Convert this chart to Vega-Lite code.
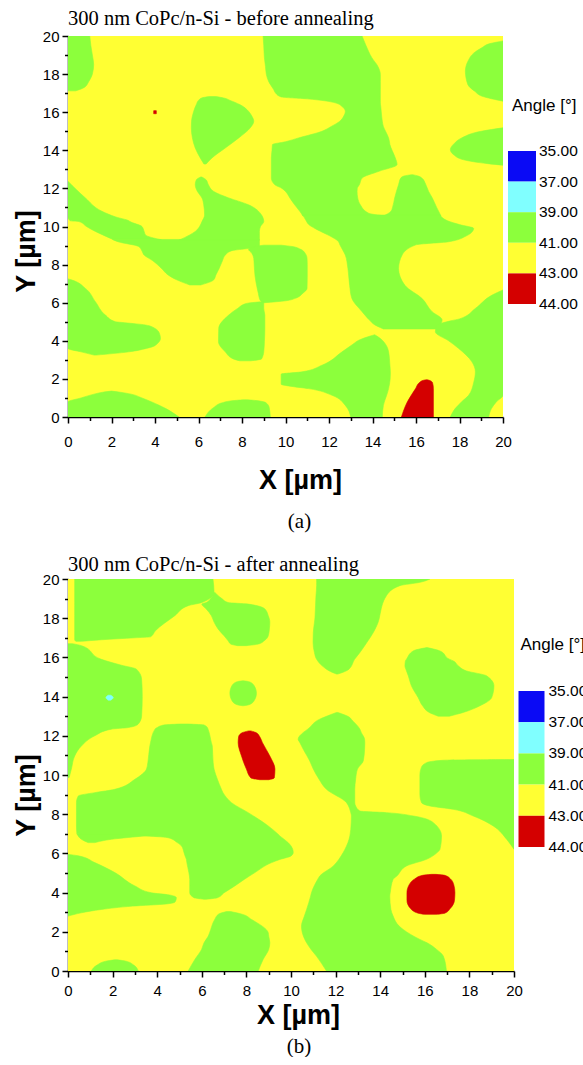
{
  "$schema": "https://vega.github.io/schema/vega-lite/v6.json",
  "padding": {"left": 12, "top": 8, "right": 0, "bottom": 0},
  "background": "white",
  "config": {
    "view": {"stroke": null},
    "axis": {"domainColor": "black", "tickColor": "black", "domainWidth": 1.5, "tickWidth": 1.5, "labelFont": "Liberation Sans", "labelFontSize": 15, "labelColor": "black", "titleFont": "Liberation Sans", "titleFontSize": 27, "titleFontWeight": "bold", "titleColor": "black", "grid": false, "labelFlush": false, "labelOverlap": false}
  },
  "datasets": {
    "a": [
      {"id":"bg","y":0,"y2":20,"xl":0,"xr":20,"v":"41-43"},
      {"id":"A1","y":17.12,"xl":0,"xr":0.35,"v":"39-41"},{"id":"A1","y":17.3,"xl":0,"xr":0.75,"v":"39-41"},{"id":"A1","y":17.6,"xl":0,"xr":0.95,"v":"39-41"},{"id":"A1","y":18.0,"xl":0,"xr":1.12,"v":"39-41"},{"id":"A1","y":18.5,"xl":0,"xr":1.18,"v":"39-41"},{"id":"A1","y":19.0,"xl":0,"xr":1.12,"v":"39-41"},{"id":"A1","y":19.5,"xl":0,"xr":1.05,"v":"39-41"},{"id":"A1","y":20,"xl":0,"xr":1.0,"v":"39-41"},
      {"id":"A2","y":13.28,"xl":6.25,"xr":6.35,"v":"39-41"},{"id":"A2","y":13.6,"xl":6.08,"xr":6.62,"v":"39-41"},{"id":"A2","y":14.12,"xl":5.85,"xr":7.23,"v":"39-41"},{"id":"A2","y":14.65,"xl":5.72,"xr":7.85,"v":"39-41"},{"id":"A2","y":15.18,"xl":5.67,"xr":8.38,"v":"39-41"},{"id":"A2","y":15.53,"xl":5.68,"xr":8.54,"v":"39-41"},{"id":"A2","y":15.8,"xl":5.72,"xr":8.45,"v":"39-41"},{"id":"A2","y":16.05,"xl":5.78,"xr":8.3,"v":"39-41"},{"id":"A2","y":16.4,"xl":5.9,"xr":7.9,"v":"39-41"},{"id":"A2","y":16.62,"xl":6.0,"xr":7.45,"v":"39-41"},{"id":"A2","y":16.75,"xl":6.15,"xr":7.15,"v":"39-41"},{"id":"A2","y":16.82,"xl":6.5,"xr":6.8,"v":"39-41"},
      {"id":"Ta","y":10.55,"xl":10.8,"xr":14.6,"v":"39-41"},{"id":"Ta","y":10.7,"xl":10.72,"xr":13.82,"v":"39-41"},{"id":"Ta","y":11.14,"xl":10.42,"xr":13.44,"v":"39-41"},{"id":"Ta","y":11.5,"xl":10.2,"xr":13.32,"v":"39-41"},{"id":"Ta","y":11.84,"xl":10.0,"xr":13.29,"v":"39-41"},{"id":"Ta","y":12.0,"xl":9.84,"xr":13.3,"v":"39-41"},{"id":"Ta","y":12.2,"xl":9.5,"xr":13.4,"v":"39-41"},{"id":"Ta","y":12.54,"xl":9.35,"xr":13.52,"v":"39-41"},{"id":"Ta","y":12.9,"xl":9.35,"xr":14.3,"v":"39-41"},{"id":"Ta","y":13.25,"xl":9.35,"xr":15.13,"v":"39-41"},{"id":"Ta","y":13.6,"xl":9.35,"xr":15.05,"v":"39-41"},{"id":"Ta","y":14.0,"xl":9.38,"xr":14.9,"v":"39-41"},{"id":"Ta","y":14.3,"xl":9.4,"xr":14.8,"v":"39-41"},{"id":"Ta","y":14.45,"xl":10.0,"xr":14.78,"v":"39-41"},{"id":"Ta","y":14.65,"xl":10.6,"xr":14.74,"v":"39-41"},{"id":"Ta","y":15.0,"xl":11.68,"xr":14.6,"v":"39-41"},{"id":"Ta","y":15.25,"xl":12.1,"xr":14.5,"v":"39-41"},{"id":"Ta","y":15.53,"xl":12.5,"xr":14.45,"v":"39-41"},{"id":"Ta","y":15.8,"xl":12.68,"xr":14.42,"v":"39-41"},{"id":"Ta","y":16.05,"xl":12.75,"xr":14.4,"v":"39-41"},{"id":"Ta","y":16.3,"xl":12.6,"xr":14.38,"v":"39-41"},{"id":"Ta","y":16.49,"xl":12.29,"xr":14.36,"v":"39-41"},{"id":"Ta","y":16.6,"xl":11.8,"xr":14.36,"v":"39-41"},{"id":"Ta","y":16.7,"xl":11.0,"xr":14.36,"v":"39-41"},{"id":"Ta","y":16.8,"xl":9.8,"xr":14.36,"v":"39-41"},{"id":"Ta","y":17.0,"xl":9.55,"xr":14.36,"v":"39-41"},{"id":"Ta","y":17.2,"xl":9.45,"xr":14.36,"v":"39-41"},{"id":"Ta","y":17.6,"xl":9.23,"xr":14.36,"v":"39-41"},{"id":"Ta","y":17.98,"xl":9.12,"xr":14.36,"v":"39-41"},{"id":"Ta","y":18.4,"xl":9.08,"xr":14.25,"v":"39-41"},{"id":"Ta","y":18.86,"xl":9.03,"xr":13.97,"v":"39-41"},{"id":"Ta","y":19.5,"xl":9.0,"xr":13.7,"v":"39-41"},{"id":"Ta","y":20,"xl":8.97,"xr":13.52,"v":"39-41"},
      {"id":"Tc","y":10.55,"xl":14.5,"xr":17.15,"v":"39-41"},{"id":"Tc","y":10.8,"xl":14.85,"xr":17.04,"v":"39-41"},{"id":"Tc","y":11.0,"xl":14.92,"xr":16.95,"v":"39-41"},{"id":"Tc","y":11.5,"xl":15.02,"xr":16.75,"v":"39-41"},{"id":"Tc","y":11.84,"xl":15.1,"xr":16.58,"v":"39-41"},{"id":"Tc","y":12.2,"xl":15.2,"xr":16.45,"v":"39-41"},{"id":"Tc","y":12.54,"xl":15.3,"xr":16.27,"v":"39-41"},{"id":"Tc","y":12.65,"xl":15.45,"xr":16.1,"v":"39-41"},{"id":"Tc","y":12.72,"xl":15.8,"xr":15.85,"v":"39-41"},
      {"id":"Tb","y":4.62,"xl":14.5,"xr":16.9,"v":"39-41"},{"id":"Tb","y":4.7,"xl":14.35,"xr":17.0,"v":"39-41"},{"id":"Tb","y":4.82,"xl":14.13,"xr":17.1,"v":"39-41"},{"id":"Tb","y":5.1,"xl":13.85,"xr":17.2,"v":"39-41"},{"id":"Tb","y":5.53,"xl":13.52,"xr":16.74,"v":"39-41"},{"id":"Tb","y":6.23,"xl":13.05,"xr":16.27,"v":"39-41"},{"id":"Tb","y":6.9,"xl":12.95,"xr":15.5,"v":"39-41"},{"id":"Tb","y":7.8,"xl":12.87,"xr":15.2,"v":"39-41"},{"id":"Tb","y":8.5,"xl":12.75,"xr":15.36,"v":"39-41"},{"id":"Tb","y":9.04,"xl":12.5,"xr":16.0,"v":"39-41"},{"id":"Tb","y":9.2,"xl":12.44,"xr":17.5,"v":"39-41"},{"id":"Tb","y":9.5,"xl":12.05,"xr":18.3,"v":"39-41"},{"id":"Tb","y":9.75,"xl":11.6,"xr":18.6,"v":"39-41"},{"id":"Tb","y":9.9,"xl":11.35,"xr":18.65,"v":"39-41"},{"id":"Tb","y":10.1,"xl":11.07,"xr":18.0,"v":"39-41"},{"id":"Tb","y":10.3,"xl":10.95,"xr":17.45,"v":"39-41"},{"id":"Tb","y":10.6,"xl":10.8,"xr":17.1,"v":"39-41"},
      {"id":"Rr","y":0,"xl":17.58,"xr":19.34,"v":"39-41"},{"id":"Rr","y":0.44,"xl":17.8,"xr":19.47,"v":"39-41"},{"id":"Rr","y":0.8,"xl":18.1,"xr":19.7,"v":"39-41"},{"id":"Rr","y":1.14,"xl":18.42,"xr":20,"v":"39-41"},{"id":"Rr","y":1.8,"xl":18.65,"xr":20,"v":"39-41"},{"id":"Rr","y":2.37,"xl":18.73,"xr":20,"v":"39-41"},{"id":"Rr","y":2.9,"xl":18.57,"xr":20,"v":"39-41"},{"id":"Rr","y":3.6,"xl":17.96,"xr":20,"v":"39-41"},{"id":"Rr","y":4.0,"xl":17.5,"xr":20,"v":"39-41"},{"id":"Rr","y":4.47,"xl":16.89,"xr":20,"v":"39-41"},{"id":"Rr","y":4.8,"xl":16.95,"xr":20,"v":"39-41"},{"id":"Rr","y":5.05,"xl":17.6,"xr":20,"v":"39-41"},{"id":"Rr","y":5.15,"xl":18.0,"xr":20,"v":"39-41"},{"id":"Rr","y":5.7,"xl":18.73,"xr":20,"v":"39-41"},{"id":"Rr","y":6.4,"xl":19.5,"xr":20,"v":"39-41"},{"id":"Rr","y":6.67,"xl":20,"xr":20,"v":"39-41"},
      {"id":"RF","y":13.22,"xl":20,"xr":20,"v":"39-41"},{"id":"RF","y":13.3,"xl":19.3,"xr":20,"v":"39-41"},{"id":"RF","y":13.5,"xl":18.2,"xr":20,"v":"39-41"},{"id":"RF","y":13.75,"xl":17.75,"xr":20,"v":"39-41"},{"id":"RF","y":14.04,"xl":17.58,"xr":20,"v":"39-41"},{"id":"RF","y":14.35,"xl":17.75,"xr":20,"v":"39-41"},{"id":"RF","y":14.65,"xl":18.1,"xr":20,"v":"39-41"},{"id":"RF","y":15.0,"xl":19.0,"xr":20,"v":"39-41"},{"id":"RF","y":15.18,"xl":20,"xr":20,"v":"39-41"},
      {"id":"RT","y":16.58,"xl":20,"xr":20,"v":"39-41"},{"id":"RT","y":16.84,"xl":19.04,"xr":20,"v":"39-41"},{"id":"RT","y":17.1,"xl":18.7,"xr":20,"v":"39-41"},{"id":"RT","y":17.46,"xl":18.38,"xr":20,"v":"39-41"},{"id":"RT","y":18.16,"xl":18.27,"xr":20,"v":"39-41"},{"id":"RT","y":18.7,"xl":18.4,"xr":20,"v":"39-41"},{"id":"RT","y":19.1,"xl":18.65,"xr":20,"v":"39-41"},{"id":"RT","y":19.39,"xl":19.04,"xr":20,"v":"39-41"},{"id":"RT","y":19.6,"xl":19.4,"xr":20,"v":"39-41"},{"id":"RT","y":19.74,"xl":20,"xr":20,"v":"39-41"},
      {"id":"LB1","y":9.3,"xl":2.1,"xr":4.3,"v":"39-41"},{"id":"LB1","y":9.56,"xl":1.6,"xr":3.56,"v":"39-41"},{"id":"LB1","y":9.74,"xl":1.26,"xr":3.5,"v":"39-41"},{"id":"LB1","y":10.0,"xl":0.85,"xr":3.4,"v":"39-41"},{"id":"LB1","y":10.26,"xl":0.5,"xr":2.85,"v":"39-41"},{"id":"LB1","y":10.3,"xl":0.1,"xr":2.8,"v":"39-41"},{"id":"LB1","y":10.5,"xl":0,"xr":2.2,"v":"39-41"},{"id":"LB1","y":10.8,"xl":0,"xr":1.56,"v":"39-41"},{"id":"LB1","y":11.5,"xl":0,"xr":0.8,"v":"39-41"},{"id":"LB1","y":12.37,"xl":0,"xr":0,"v":"39-41"},
      {"id":"LB2","y":6.93,"xl":5.6,"xr":6.1,"v":"39-41"},{"id":"LB2","y":7.2,"xl":5.0,"xr":6.7,"v":"39-41"},{"id":"LB2","y":7.46,"xl":4.6,"xr":6.8,"v":"39-41"},{"id":"LB2","y":7.8,"xl":4.3,"xr":6.95,"v":"39-41"},{"id":"LB2","y":8.2,"xl":3.9,"xr":7.1,"v":"39-41"},{"id":"LB2","y":8.5,"xl":3.5,"xr":7.23,"v":"39-41"},{"id":"LB2","y":8.72,"xl":3.4,"xr":7.5,"v":"39-41"},{"id":"LB2","y":8.95,"xl":3.25,"xr":8.8,"v":"39-41"},{"id":"LB2","y":9.2,"xl":2.3,"xr":8.8,"v":"39-41"},{"id":"LB2","y":9.32,"xl":2.05,"xr":8.8,"v":"39-41"},
      {"id":"LB3","y":6.0,"xl":8.95,"xr":9.05,"v":"39-41"},{"id":"LB3","y":6.1,"xl":8.85,"xr":10.0,"v":"39-41"},{"id":"LB3","y":6.23,"xl":8.8,"xr":10.45,"v":"39-41"},{"id":"LB3","y":6.5,"xl":8.75,"xr":10.8,"v":"39-41"},{"id":"LB3","y":6.75,"xl":8.7,"xr":10.99,"v":"39-41"},{"id":"LB3","y":7.4,"xl":8.6,"xr":11.0,"v":"39-41"},{"id":"LB3","y":8.0,"xl":8.56,"xr":11.0,"v":"39-41"},{"id":"LB3","y":8.33,"xl":8.54,"xr":10.99,"v":"39-41"},{"id":"LB3","y":8.6,"xl":8.45,"xr":10.9,"v":"39-41"},{"id":"LB3","y":8.8,"xl":8.3,"xr":10.7,"v":"39-41"},{"id":"LB3","y":8.95,"xl":8.6,"xr":10.3,"v":"39-41"},{"id":"LB3","y":9.02,"xl":9.0,"xr":9.8,"v":"39-41"},
      {"id":"LB4","y":9.28,"xl":5.1,"xr":8.8,"v":"39-41"},{"id":"LB4","y":9.56,"xl":5.6,"xr":8.8,"v":"39-41"},{"id":"LB4","y":9.74,"xl":5.85,"xr":8.8,"v":"39-41"},{"id":"LB4","y":10.0,"xl":6.05,"xr":8.85,"v":"39-41"},{"id":"LB4","y":10.26,"xl":6.16,"xr":9.0,"v":"39-41"},{"id":"LB4","y":10.6,"xl":6.28,"xr":8.9,"v":"39-41"},{"id":"LB4","y":11.14,"xl":6.24,"xr":8.3,"v":"39-41"},{"id":"LB4","y":11.5,"xl":6.16,"xr":7.39,"v":"39-41"},{"id":"LB4","y":11.84,"xl":5.95,"xr":6.7,"v":"39-41"},{"id":"LB4","y":12.2,"xl":5.85,"xr":6.45,"v":"39-41"},{"id":"LB4","y":12.45,"xl":5.9,"xr":6.35,"v":"39-41"},{"id":"LB4","y":12.6,"xl":6.1,"xr":6.15,"v":"39-41"},
      {"id":"LL","y":3.25,"xl":1.2,"xr":1.3,"v":"39-41"},{"id":"LL","y":3.42,"xl":0.6,"xr":2.79,"v":"39-41"},{"id":"LL","y":3.6,"xl":0,"xr":3.6,"v":"39-41"},{"id":"LL","y":3.68,"xl":0,"xr":3.86,"v":"39-41"},{"id":"LL","y":3.9,"xl":0,"xr":4.15,"v":"39-41"},{"id":"LL","y":4.12,"xl":0,"xr":4.25,"v":"39-41"},{"id":"LL","y":4.4,"xl":0,"xr":4.2,"v":"39-41"},{"id":"LL","y":4.65,"xl":0,"xr":4.0,"v":"39-41"},{"id":"LL","y":4.83,"xl":0,"xr":3.56,"v":"39-41"},{"id":"LL","y":4.95,"xl":0,"xr":2.6,"v":"39-41"},{"id":"LL","y":5.0,"xl":0,"xr":2.18,"v":"39-41"},{"id":"LL","y":5.35,"xl":0,"xr":1.72,"v":"39-41"},{"id":"LL","y":6.05,"xl":0,"xr":1.26,"v":"39-41"},{"id":"LL","y":6.75,"xl":0,"xr":0.8,"v":"39-41"},{"id":"LL","y":7.2,"xl":0,"xr":0.15,"v":"39-41"},{"id":"LL","y":7.25,"xl":0,"xr":0,"v":"39-41"},
      {"id":"LBL","y":2.95,"xl":7.9,"xr":8.4,"v":"39-41"},{"id":"LBL","y":3.05,"xl":7.6,"xr":8.9,"v":"39-41"},{"id":"LBL","y":3.42,"xl":7.23,"xr":9.0,"v":"39-41"},{"id":"LBL","y":3.95,"xl":6.92,"xr":9.03,"v":"39-41"},{"id":"LBL","y":4.65,"xl":6.93,"xr":9.05,"v":"39-41"},{"id":"LBL","y":5.35,"xl":7.39,"xr":9.05,"v":"39-41"},{"id":"LBL","y":5.7,"xl":7.8,"xr":9.0,"v":"39-41"},{"id":"LBL","y":5.96,"xl":8.2,"xr":9.0,"v":"39-41"},{"id":"LBL","y":6.05,"xl":8.9,"xr":9.0,"v":"39-41"},
      {"id":"BL1","y":0,"xl":0,"xr":5.1,"v":"39-41"},{"id":"BL1","y":0.44,"xl":0,"xr":4.5,"v":"39-41"},{"id":"BL1","y":0.79,"xl":0,"xr":3.85,"v":"39-41"},{"id":"BL1","y":1.0,"xl":0.6,"xr":3.4,"v":"39-41"},{"id":"BL1","y":1.2,"xl":1.2,"xr":2.9,"v":"39-41"},{"id":"BL1","y":1.3,"xl":1.6,"xr":2.4,"v":"39-41"},{"id":"BL1","y":1.36,"xl":2.0,"xr":2.0,"v":"39-41"},
      {"id":"BM","y":0,"xl":6.3,"xr":9.3,"v":"39-41"},{"id":"BM","y":0.5,"xl":6.7,"xr":9.25,"v":"39-41"},{"id":"BM","y":0.75,"xl":7.1,"xr":9.1,"v":"39-41"},{"id":"BM","y":0.88,"xl":7.8,"xr":8.5,"v":"39-41"},{"id":"BM","y":0.9,"xl":8.1,"xr":8.2,"v":"39-41"},
      {"id":"G2","y":0,"xl":13.0,"xr":14.45,"v":"39-41"},{"id":"G2","y":0.61,"xl":12.75,"xr":14.5,"v":"39-41"},{"id":"G2","y":1.14,"xl":12.14,"xr":14.65,"v":"39-41"},{"id":"G2","y":1.49,"xl":11.06,"xr":14.74,"v":"39-41"},{"id":"G2","y":1.62,"xl":10.2,"xr":14.76,"v":"39-41"},{"id":"G2","y":1.72,"xl":9.8,"xr":14.78,"v":"39-41"},{"id":"G2","y":2.25,"xl":9.8,"xr":14.82,"v":"39-41"},{"id":"G2","y":2.37,"xl":10.76,"xr":14.82,"v":"39-41"},{"id":"G2","y":2.72,"xl":11.68,"xr":14.8,"v":"39-41"},{"id":"G2","y":3.42,"xl":12.6,"xr":14.74,"v":"39-41"},{"id":"G2","y":3.82,"xl":13.1,"xr":14.6,"v":"39-41"},{"id":"G2","y":4.03,"xl":13.37,"xr":14.45,"v":"39-41"},{"id":"G2","y":4.25,"xl":13.9,"xr":14.2,"v":"39-41"},{"id":"G2","y":4.32,"xl":14.1,"xr":14.1,"v":"39-41"},
      {"id":"R1","y":0,"xl":15.33,"xr":16.8,"v":"43-44"},{"id":"R1","y":0.79,"xl":15.6,"xr":16.8,"v":"43-44"},{"id":"R1","y":1.49,"xl":15.98,"xr":16.8,"v":"43-44"},{"id":"R1","y":1.8,"xl":16.15,"xr":16.76,"v":"43-44"},{"id":"R1","y":1.93,"xl":16.35,"xr":16.6,"v":"43-44"},{"id":"R1","y":1.96,"xl":16.5,"xr":16.5,"v":"43-44"},
      {"id":"R2","y":15.92,"xl":3.94,"xr":4.06,"v":"43-44"},{"id":"R2","y":16.08,"xl":3.94,"xr":4.06,"v":"43-44"}
    ],
    "b": [
      {"id":"bg","y":0,"y2":20,"xl":0,"xr":20,"v":"41-43"},
      {"id":"TLa","y":16.82,"xl":0.35,"xr":0.6,"v":"39-41"},{"id":"TLa","y":16.9,"xl":0.3,"xr":1.5,"v":"39-41"},{"id":"TLa","y":17.0,"xl":0.3,"xr":3.0,"v":"39-41"},{"id":"TLa","y":17.05,"xl":0.3,"xr":3.7,"v":"39-41"},{"id":"TLa","y":17.36,"xl":0.3,"xr":3.92,"v":"39-41"},{"id":"TLa","y":18.13,"xl":0.3,"xr":4.79,"v":"39-41"},{"id":"TLa","y":18.64,"xl":0.3,"xr":5.39,"v":"39-41"},{"id":"TLa","y":18.8,"xl":0.3,"xr":6.0,"v":"39-41"},{"id":"TLa","y":19.3,"xl":0.3,"xr":6.55,"v":"39-41"},{"id":"TLa","y":20,"xl":0.3,"xr":6.5,"v":"39-41"},
      {"id":"TLb","y":16.6,"xl":7.6,"xr":8.0,"v":"39-41"},{"id":"TLb","y":16.68,"xl":7.3,"xr":8.53,"v":"39-41"},{"id":"TLb","y":16.85,"xl":7.18,"xr":8.8,"v":"39-41"},{"id":"TLb","y":17.1,"xl":7.0,"xr":8.98,"v":"39-41"},{"id":"TLb","y":17.45,"xl":6.73,"xr":9.03,"v":"39-41"},{"id":"TLb","y":17.8,"xl":6.55,"xr":9.05,"v":"39-41"},{"id":"TLb","y":18.13,"xl":6.43,"xr":8.98,"v":"39-41"},{"id":"TLb","y":18.47,"xl":6.2,"xr":8.83,"v":"39-41"},{"id":"TLb","y":18.72,"xl":6.0,"xr":8.08,"v":"39-41"},{"id":"TLb","y":18.8,"xl":6.2,"xr":7.18,"v":"39-41"},{"id":"TLb","y":19.0,"xl":6.4,"xr":6.9,"v":"39-41"},{"id":"TLb","y":19.3,"xl":6.55,"xr":6.6,"v":"39-41"},
      {"id":"BL","y":9.87,"xl":0,"xr":0.05,"v":"39-41"},{"id":"BL","y":10.3,"xl":0,"xr":0.15,"v":"39-41"},{"id":"BL","y":10.97,"xl":0,"xr":0.3,"v":"39-41"},{"id":"BL","y":11.48,"xl":0,"xr":0.6,"v":"39-41"},{"id":"BL","y":12.0,"xl":0,"xr":1.2,"v":"39-41"},{"id":"BL","y":12.34,"xl":0,"xr":1.95,"v":"39-41"},{"id":"BL","y":12.42,"xl":0,"xr":2.7,"v":"39-41"},{"id":"BL","y":12.6,"xl":0,"xr":3.15,"v":"39-41"},{"id":"BL","y":13.0,"xl":0,"xr":3.3,"v":"39-41"},{"id":"BL","y":14.0,"xl":0,"xr":3.33,"v":"39-41"},{"id":"BL","y":14.9,"xl":0,"xr":3.3,"v":"39-41"},{"id":"BL","y":15.4,"xl":0,"xr":3.07,"v":"39-41"},{"id":"BL","y":15.6,"xl":0,"xr":2.4,"v":"39-41"},{"id":"BL","y":15.9,"xl":0,"xr":1.5,"v":"39-41"},{"id":"BL","y":16.6,"xl":0,"xr":0.6,"v":"39-41"},{"id":"BL","y":16.7,"xl":0,"xr":0.2,"v":"39-41"},
      {"id":"SC","y":13.53,"xl":7.85,"xr":7.85,"v":"39-41"},{"id":"SC","y":13.6,"xl":7.55,"xr":8.15,"v":"39-41"},{"id":"SC","y":13.8,"xl":7.35,"xr":8.35,"v":"39-41"},{"id":"SC","y":14.17,"xl":7.26,"xr":8.45,"v":"39-41"},{"id":"SC","y":14.55,"xl":7.35,"xr":8.35,"v":"39-41"},{"id":"SC","y":14.75,"xl":7.55,"xr":8.15,"v":"39-41"},{"id":"SC","y":14.81,"xl":7.85,"xr":7.85,"v":"39-41"},
      {"id":"BRa","y":3.66,"xl":6.1,"xr":6.2,"v":"39-41"},{"id":"BRa","y":3.74,"xl":5.65,"xr":6.7,"v":"39-41"},{"id":"BRa","y":3.99,"xl":5.46,"xr":7.0,"v":"39-41"},{"id":"BRa","y":4.34,"xl":5.46,"xr":7.48,"v":"39-41"},{"id":"BRa","y":4.67,"xl":5.46,"xr":7.9,"v":"39-41"},{"id":"BRa","y":5.02,"xl":5.42,"xr":8.38,"v":"39-41"},{"id":"BRa","y":5.53,"xl":5.33,"xr":9.13,"v":"39-41"},{"id":"BRa","y":5.69,"xl":5.31,"xr":9.5,"v":"39-41"},{"id":"BRa","y":5.87,"xl":5.25,"xr":10.0,"v":"39-41"},{"id":"BRa","y":6.05,"xl":5.2,"xr":10.1,"v":"39-41"},{"id":"BRa","y":6.38,"xl":5.09,"xr":10.0,"v":"39-41"},{"id":"BRa","y":6.55,"xl":4.9,"xr":9.87,"v":"39-41"},{"id":"BRa","y":6.8,"xl":4.49,"xr":9.6,"v":"39-41"},{"id":"BRa","y":6.89,"xl":3.45,"xr":9.5,"v":"39-41"},{"id":"BRa","y":7.0,"xl":0.4,"xr":9.4,"v":"39-41"},{"id":"BRa","y":7.4,"xl":0.38,"xr":8.98,"v":"39-41"},{"id":"BRa","y":8.08,"xl":0.38,"xr":8.08,"v":"39-41"},{"id":"BRa","y":8.59,"xl":0.38,"xr":7.33,"v":"39-41"},{"id":"BRa","y":8.93,"xl":0.46,"xr":7.05,"v":"39-41"},{"id":"BRa","y":9.1,"xl":1.2,"xr":6.95,"v":"39-41"},{"id":"BRa","y":9.27,"xl":2.1,"xr":6.88,"v":"39-41"},{"id":"BRa","y":9.78,"xl":3.0,"xr":6.7,"v":"39-41"},{"id":"BRa","y":10.3,"xl":3.52,"xr":6.55,"v":"39-41"},{"id":"BRa","y":10.63,"xl":3.58,"xr":6.51,"v":"39-41"},{"id":"BRa","y":11.48,"xl":3.67,"xr":6.47,"v":"39-41"},{"id":"BRa","y":11.65,"xl":3.7,"xr":6.43,"v":"39-41"},{"id":"BRa","y":12.34,"xl":3.9,"xr":6.28,"v":"39-41"},{"id":"BRa","y":12.42,"xl":4.0,"xr":6.25,"v":"39-41"},{"id":"BRa","y":12.55,"xl":4.3,"xr":6.1,"v":"39-41"},{"id":"BRa","y":12.6,"xl":5.0,"xr":5.4,"v":"39-41"},
      {"id":"BRb","y":6.55,"xl":0.9,"xr":1.2,"v":"39-41"},{"id":"BRb","y":6.72,"xl":0.6,"xr":1.95,"v":"39-41"},{"id":"BRb","y":6.9,"xl":0.45,"xr":3.45,"v":"39-41"},{"id":"BRb","y":7.0,"xl":0.4,"xr":4.0,"v":"39-41"},
      {"id":"LT","y":2.8,"xl":0,"xr":0,"v":"39-41"},{"id":"LT","y":2.97,"xl":0,"xr":0.6,"v":"39-41"},{"id":"LT","y":3.14,"xl":0,"xr":1.5,"v":"39-41"},{"id":"LT","y":3.31,"xl":0,"xr":2.9,"v":"39-41"},{"id":"LT","y":3.42,"xl":0,"xr":4.4,"v":"39-41"},{"id":"LT","y":3.52,"xl":0,"xr":4.8,"v":"39-41"},{"id":"LT","y":3.74,"xl":0,"xr":4.86,"v":"39-41"},{"id":"LT","y":3.88,"xl":0,"xr":4.55,"v":"39-41"},{"id":"LT","y":3.99,"xl":0,"xr":3.74,"v":"39-41"},{"id":"LT","y":4.34,"xl":0,"xr":3.0,"v":"39-41"},{"id":"LT","y":5.02,"xl":0,"xr":2.1,"v":"39-41"},{"id":"LT","y":5.53,"xl":0,"xr":1.2,"v":"39-41"},{"id":"LT","y":5.88,"xl":0,"xr":0.45,"v":"39-41"},{"id":"LT","y":5.95,"xl":0,"xr":0,"v":"39-41"},
      {"id":"BS","y":0,"xl":1.05,"xr":3.15,"v":"39-41"},{"id":"BS","y":0.3,"xl":1.3,"xr":2.95,"v":"39-41"},{"id":"BS","y":0.5,"xl":1.7,"xr":2.6,"v":"39-41"},{"id":"BS","y":0.57,"xl":2.1,"xr":2.2,"v":"39-41"},
      {"id":"BMb","y":0,"xl":5.39,"xr":8.53,"v":"39-41"},{"id":"BMb","y":0.59,"xl":5.69,"xr":8.75,"v":"39-41"},{"id":"BMb","y":1.1,"xl":5.99,"xr":9.0,"v":"39-41"},{"id":"BMb","y":1.44,"xl":6.1,"xr":9.05,"v":"39-41"},{"id":"BMb","y":1.78,"xl":6.29,"xr":9.0,"v":"39-41"},{"id":"BMb","y":1.95,"xl":6.35,"xr":8.98,"v":"39-41"},{"id":"BMb","y":2.63,"xl":6.58,"xr":8.23,"v":"39-41"},{"id":"BMb","y":2.9,"xl":6.75,"xr":7.8,"v":"39-41"},{"id":"BMb","y":3.03,"xl":7.1,"xr":7.3,"v":"39-41"},
      {"id":"TG","y":15.15,"xl":12.04,"xr":12.1,"v":"39-41"},{"id":"TG","y":15.32,"xl":11.7,"xr":12.49,"v":"39-41"},{"id":"TG","y":15.4,"xl":11.59,"xr":12.6,"v":"39-41"},{"id":"TG","y":15.9,"xl":11.15,"xr":12.85,"v":"39-41"},{"id":"TG","y":16.25,"xl":11.05,"xr":13.09,"v":"39-41"},{"id":"TG","y":16.76,"xl":10.99,"xr":13.4,"v":"39-41"},{"id":"TG","y":17.27,"xl":11.0,"xr":13.69,"v":"39-41"},{"id":"TG","y":17.96,"xl":11.07,"xr":13.95,"v":"39-41"},{"id":"TG","y":18.13,"xl":11.08,"xr":13.98,"v":"39-41"},{"id":"TG","y":19.15,"xl":11.12,"xr":14.28,"v":"39-41"},{"id":"TG","y":19.66,"xl":11.15,"xr":14.88,"v":"39-41"},{"id":"TG","y":19.83,"xl":11.15,"xr":15.78,"v":"39-41"},{"id":"TG","y":20,"xl":11.15,"xr":16.23,"v":"39-41"},
      {"id":"MRB","y":13.0,"xl":16.6,"xr":17.1,"v":"39-41"},{"id":"MRB","y":13.19,"xl":16.2,"xr":17.72,"v":"39-41"},{"id":"MRB","y":13.53,"xl":15.9,"xr":18.47,"v":"39-41"},{"id":"MRB","y":13.95,"xl":15.7,"xr":19.0,"v":"39-41"},{"id":"MRB","y":14.55,"xl":15.4,"xr":19.1,"v":"39-41"},{"id":"MRB","y":15.06,"xl":15.26,"xr":18.77,"v":"39-41"},{"id":"MRB","y":15.31,"xl":15.18,"xr":17.87,"v":"39-41"},{"id":"MRB","y":15.57,"xl":15.11,"xr":17.5,"v":"39-41"},{"id":"MRB","y":15.82,"xl":15.13,"xr":17.28,"v":"39-41"},{"id":"MRB","y":15.91,"xl":15.18,"xr":17.1,"v":"39-41"},{"id":"MRB","y":16.33,"xl":15.48,"xr":16.68,"v":"39-41"},{"id":"MRB","y":16.5,"xl":16.08,"xr":16.1,"v":"39-41"},
      {"id":"G3","y":0,"xl":11.59,"xr":16.97,"v":"39-41"},{"id":"G3","y":0.76,"xl":11.14,"xr":16.83,"v":"39-41"},{"id":"G3","y":1.1,"xl":10.9,"xr":16.53,"v":"39-41"},{"id":"G3","y":1.44,"xl":10.7,"xr":16.1,"v":"39-41"},{"id":"G3","y":1.61,"xl":10.62,"xr":15.78,"v":"39-41"},{"id":"G3","y":2.12,"xl":10.48,"xr":15.03,"v":"39-41"},{"id":"G3","y":2.29,"xl":10.47,"xr":14.85,"v":"39-41"},{"id":"G3","y":2.8,"xl":10.6,"xr":14.58,"v":"39-41"},{"id":"G3","y":3.14,"xl":10.7,"xr":14.48,"v":"39-41"},{"id":"G3","y":3.82,"xl":10.88,"xr":14.43,"v":"39-41"},{"id":"G3","y":4.0,"xl":10.92,"xr":14.45,"v":"39-41"},{"id":"G3","y":4.68,"xl":11.2,"xr":14.58,"v":"39-41"},{"id":"G3","y":4.85,"xl":11.29,"xr":14.75,"v":"39-41"},{"id":"G3","y":5.36,"xl":11.9,"xr":15.18,"v":"39-41"},{"id":"G3","y":5.7,"xl":12.15,"xr":16.08,"v":"39-41"},{"id":"G3","y":6.04,"xl":12.34,"xr":16.55,"v":"39-41"},{"id":"G3","y":6.21,"xl":12.42,"xr":16.68,"v":"39-41"},{"id":"G3","y":6.89,"xl":12.64,"xr":16.75,"v":"39-41"},{"id":"G3","y":7.57,"xl":12.7,"xr":16.38,"v":"39-41"},{"id":"G3","y":7.91,"xl":12.71,"xr":15.48,"v":"39-41"},{"id":"G3","y":8.08,"xl":12.68,"xr":14.28,"v":"39-41"},{"id":"G3","y":8.16,"xl":12.66,"xr":13.09,"v":"39-41"},{"id":"G3","y":8.42,"xl":12.58,"xr":12.9,"v":"39-41"},{"id":"G3","y":8.59,"xl":12.49,"xr":12.86,"v":"39-41"},{"id":"G3","y":9.27,"xl":11.59,"xr":12.86,"v":"39-41"},{"id":"G3","y":9.8,"xl":11.25,"xr":12.9,"v":"39-41"},{"id":"G3","y":10.3,"xl":11.0,"xr":12.98,"v":"39-41"},{"id":"G3","y":10.72,"xl":10.84,"xr":13.24,"v":"39-41"},{"id":"G3","y":11.31,"xl":10.55,"xr":13.3,"v":"39-41"},{"id":"G3","y":11.65,"xl":10.4,"xr":13.31,"v":"39-41"},{"id":"G3","y":11.83,"xl":10.32,"xr":13.3,"v":"39-41"},{"id":"G3","y":12.17,"xl":10.55,"xr":13.15,"v":"39-41"},{"id":"G3","y":12.34,"xl":10.75,"xr":13.09,"v":"39-41"},{"id":"G3","y":12.85,"xl":11.29,"xr":12.7,"v":"39-41"},{"id":"G3","y":12.93,"xl":11.45,"xr":12.64,"v":"39-41"},{"id":"G3","y":13.19,"xl":12.04,"xr":12.1,"v":"39-41"},
      {"id":"G4","y":6.21,"xl":20,"xr":20,"v":"39-41"},{"id":"G4","y":6.72,"xl":19.67,"xr":20,"v":"39-41"},{"id":"G4","y":7.4,"xl":19.07,"xr":20,"v":"39-41"},{"id":"G4","y":7.91,"xl":18.17,"xr":20,"v":"39-41"},{"id":"G4","y":8.25,"xl":17.27,"xr":20,"v":"39-41"},{"id":"G4","y":8.42,"xl":16.23,"xr":20,"v":"39-41"},{"id":"G4","y":8.6,"xl":15.85,"xr":20,"v":"39-41"},{"id":"G4","y":9.0,"xl":15.78,"xr":20,"v":"39-41"},{"id":"G4","y":10.0,"xl":15.78,"xr":20,"v":"39-41"},{"id":"G4","y":10.4,"xl":15.85,"xr":20,"v":"39-41"},{"id":"G4","y":10.63,"xl":16.08,"xr":20,"v":"39-41"},{"id":"G4","y":10.75,"xl":16.8,"xr":20,"v":"39-41"},{"id":"G4","y":10.78,"xl":18.5,"xr":20,"v":"39-41"},{"id":"G4","y":10.79,"xl":20,"xr":20,"v":"39-41"},
      {"id":"RU","y":9.76,"xl":8.6,"xr":9.0,"v":"43-44"},{"id":"RU","y":9.85,"xl":8.2,"xr":9.25,"v":"43-44"},{"id":"RU","y":10.3,"xl":8.0,"xr":9.28,"v":"43-44"},{"id":"RU","y":10.97,"xl":7.78,"xr":9.05,"v":"43-44"},{"id":"RU","y":11.65,"xl":7.63,"xr":8.72,"v":"43-44"},{"id":"RU","y":11.95,"xl":7.65,"xr":8.6,"v":"43-44"},{"id":"RU","y":12.15,"xl":7.8,"xr":8.45,"v":"43-44"},{"id":"RU","y":12.25,"xl":8.1,"xr":8.2,"v":"43-44"},
      {"id":"RL","y":2.89,"xl":16.0,"xr":16.5,"v":"43-44"},{"id":"RL","y":2.95,"xl":15.7,"xr":16.9,"v":"43-44"},{"id":"RL","y":3.2,"xl":15.35,"xr":17.15,"v":"43-44"},{"id":"RL","y":3.6,"xl":15.2,"xr":17.33,"v":"43-44"},{"id":"RL","y":4.0,"xl":15.2,"xr":17.35,"v":"43-44"},{"id":"RL","y":4.4,"xl":15.3,"xr":17.3,"v":"43-44"},{"id":"RL","y":4.7,"xl":15.55,"xr":17.15,"v":"43-44"},{"id":"RL","y":4.88,"xl":15.9,"xr":16.9,"v":"43-44"},{"id":"RL","y":4.93,"xl":16.3,"xr":16.5,"v":"43-44"},
      {"id":"CY","y":13.82,"xl":1.8,"xr":1.92,"v":"37-39"},{"id":"CY","y":13.95,"xl":1.7,"xr":2.03,"v":"37-39"},{"id":"CY","y":14.07,"xl":1.8,"xr":1.92,"v":"37-39"}
    ],
    "legend": [
      {"v":"35-37","lo":"35.00","hi":"37.00"},
      {"v":"37-39","lo":"37.00","hi":"39.00"},
      {"v":"39-41","lo":"39.00","hi":"41.00"},
      {"v":"41-43","lo":"41.00","hi":"43.00"},
      {"v":"43-44","lo":"43.00","hi":"44.00"}
    ],
    "capa": [{"t":"(a)"}],
    "capb": [{"t":"(b)"}]
  },
  "vconcat": [
    {
      "spacing": 5,
      "bounds": "flush",
      "hconcat": [
        {
          "width": 435, "height": 381,
          "title": {"text": "300 nm CoPc/n-Si  - before annealing", "anchor": "start", "frame": "group", "font": "Liberation Serif", "fontSize": 20.5, "fontWeight": "normal", "color": "black", "offset": 0},
          "data": {"name": "a"},
          "encoding": {
            "x": {"field": "xl", "type": "quantitative", "stack": null, "scale": {"domain": [0, 20], "nice": false, "zero": false},
                  "axis": {"title": "X [µm]", "values": [0,1,2,3,4,5,6,7,8,9,10,11,12,13,14,15,16,17,18,19,20], "format": "d", "labelExpr": "datum.value % 2 === 0 ? datum.label : ''", "tickSize": {"condition": {"test": "datum.value % 2 === 0", "value": 6}, "value": 3.5}, "labelPadding": 11, "titlePadding": 18, "titleX": 232}},
            "y": {"field": "y", "type": "quantitative", "scale": {"domain": [0, 20], "nice": false, "zero": false},
                  "axis": {"title": "Y [µm]", "values": [0,1,2,3,4,5,6,7,8,9,10,11,12,13,14,15,16,17,18,19,20], "format": "d", "labelExpr": "datum.value % 2 === 0 ? datum.label : ''", "tickSize": {"condition": {"test": "datum.value % 2 === 0", "value": 6}, "value": 3.5}, "labelPadding": 3, "titlePadding": 2, "titleY": 215}},
            "color": {"field": "v", "type": "nominal", "scale": {"domain": ["35-37","37-39","39-41","41-43","43-44"], "range": ["#0a0af5","#80ffff","#8cff3c","#ffff33","#d40000"]}, "legend": null},
            "stroke": {"field": "v", "type": "nominal", "scale": {"domain": ["35-37","37-39","39-41","41-43","43-44"], "range": ["#0a0af5","#80ffff","#8cff3c","#ffff33","#d40000"]}, "legend": null}
          },
          "layer": [
            {"transform": [{"filter": "datum.id === 'bg'"}], "mark": {"type": "rect", "strokeWidth": 0}, "encoding": {"x2": {"field": "xr"}, "y2": {"field": "y2"}}},
            {"transform": [{"filter": "datum.v === '39-41'"}], "mark": {"type": "area", "orient": "horizontal", "interpolate": "monotone", "clip": true, "strokeWidth": 0.6}, "encoding": {"x2": {"field": "xr"}, "detail": {"field": "id", "type": "nominal"}}},
            {"transform": [{"filter": "datum.id !== 'bg' && datum.v !== '39-41'"}], "mark": {"type": "area", "orient": "horizontal", "interpolate": "monotone", "clip": true, "strokeWidth": 0.6}, "encoding": {"x2": {"field": "xr"}, "detail": {"field": "id", "type": "nominal"}}}
          ]
        },
        {
          "width": 28, "height": 381,
          "data": {"name": "legend"},
          "layer": [
            {"mark": {"type": "rect"},
             "encoding": {
               "y": {"field": "v", "type": "nominal", "sort": null, "scale": {"paddingInner": 0, "paddingOuter": 0, "range": [115, 268]}, "axis": null},
               "color": {"field": "v", "type": "nominal", "scale": {"domain": ["35-37","37-39","39-41","41-43","43-44"], "range": ["#0a0af5","#80ffff","#8cff3c","#ffff33","#d40000"]}, "legend": null}
             }},
            {"mark": {"type": "text", "align": "left", "baseline": "middle", "dx": 17, "font": "Liberation Sans", "fontSize": 15.5, "color": "black"},
             "encoding": {"y": {"field": "v", "type": "nominal", "sort": null, "bandPosition": 0}, "text": {"field": "lo"}}},
            {"transform": [{"filter": "datum.v === '43-44'"}],
             "mark": {"type": "text", "align": "left", "baseline": "middle", "dx": 17, "font": "Liberation Sans", "fontSize": 15.5, "color": "black"},
             "encoding": {"y": {"field": "v", "type": "nominal", "sort": null, "bandPosition": 1}, "text": {"field": "hi"}}},
            {"transform": [{"filter": "datum.v === '35-37'"}],
             "mark": {"type": "text", "align": "left", "baseline": "alphabetic", "dx": -10, "dy": -40, "font": "Liberation Sans", "fontSize": 17, "color": "black"},
             "encoding": {"y": {"field": "v", "type": "nominal", "sort": null, "bandPosition": 0}, "text": {"value": "Angle [°]"}}}
          ]
        }
      ]
    },
    {
      "width": 435, "height": 47,
      "data": {"name": "capa"},
      "mark": {"type": "text", "font": "Liberation Serif", "fontSize": 21, "baseline": "middle", "color": "black", "dx": 14, "dy": -2},
      "encoding": {"text": {"field": "t"}}
    },
    {
      "spacing": 4.5,
      "bounds": "flush",
      "hconcat": [
        {
          "width": 446, "height": 392,
          "title": {"text": "300 nm CoPc/n-Si - after annealing", "anchor": "start", "frame": "group", "font": "Liberation Serif", "fontSize": 20.5, "fontWeight": "normal", "color": "black", "offset": -3},
          "data": {"name": "b"},
          "encoding": {
            "x": {"field": "xl", "type": "quantitative", "stack": null, "scale": {"domain": [0, 20], "nice": false, "zero": false},
                  "axis": {"title": "X [µm]", "values": [0,1,2,3,4,5,6,7,8,9,10,11,12,13,14,15,16,17,18,19,20], "format": "d", "labelExpr": "datum.value % 2 === 0 ? datum.label : ''", "tickSize": {"condition": {"test": "datum.value % 2 === 0", "value": 6}, "value": 3.5}, "labelPadding": 6.5, "titlePadding": 3.5, "titleX": 230}},
            "y": {"field": "y", "type": "quantitative", "scale": {"domain": [0, 20], "nice": false, "zero": false},
                  "axis": {"title": "Y [µm]", "values": [0,1,2,3,4,5,6,7,8,9,10,11,12,13,14,15,16,17,18,19,20], "format": "d", "labelExpr": "datum.value % 2 === 0 ? datum.label : ''", "tickSize": {"condition": {"test": "datum.value % 2 === 0", "value": 6}, "value": 3.5}, "labelPadding": 3, "titlePadding": 2, "titleY": 216}},
            "color": {"field": "v", "type": "nominal", "scale": {"domain": ["35-37","37-39","39-41","41-43","43-44"], "range": ["#0a0af5","#80ffff","#8cff3c","#ffff33","#d40000"]}, "legend": null},
            "stroke": {"field": "v", "type": "nominal", "scale": {"domain": ["35-37","37-39","39-41","41-43","43-44"], "range": ["#0a0af5","#80ffff","#8cff3c","#ffff33","#d40000"]}, "legend": null}
          },
          "layer": [
            {"transform": [{"filter": "datum.id === 'bg'"}], "mark": {"type": "rect", "strokeWidth": 0}, "encoding": {"x2": {"field": "xr"}, "y2": {"field": "y2"}}},
            {"transform": [{"filter": "datum.v === '39-41'"}], "mark": {"type": "area", "orient": "horizontal", "interpolate": "monotone", "clip": true, "strokeWidth": 0.6}, "encoding": {"x2": {"field": "xr"}, "detail": {"field": "id", "type": "nominal"}}},
            {"transform": [{"filter": "datum.id !== 'bg' && datum.v !== '39-41'"}], "mark": {"type": "area", "orient": "horizontal", "interpolate": "monotone", "clip": true, "strokeWidth": 0.6}, "encoding": {"x2": {"field": "xr"}, "detail": {"field": "id", "type": "nominal"}}}
          ]
        },
        {
          "width": 26, "height": 392,
          "data": {"name": "legend"},
          "layer": [
            {"mark": {"type": "rect"},
             "encoding": {
               "y": {"field": "v", "type": "nominal", "sort": null, "scale": {"paddingInner": 0, "paddingOuter": 0, "range": [112, 268]}, "axis": null},
               "color": {"field": "v", "type": "nominal", "scale": {"domain": ["35-37","37-39","39-41","41-43","43-44"], "range": ["#0a0af5","#80ffff","#8cff3c","#ffff33","#d40000"]}, "legend": null}
             }},
            {"mark": {"type": "text", "align": "left", "baseline": "middle", "dx": 17, "font": "Liberation Sans", "fontSize": 15.5, "color": "black"},
             "encoding": {"y": {"field": "v", "type": "nominal", "sort": null, "bandPosition": 0}, "text": {"field": "lo"}}},
            {"transform": [{"filter": "datum.v === '43-44'"}],
             "mark": {"type": "text", "align": "left", "baseline": "middle", "dx": 17, "font": "Liberation Sans", "fontSize": 15.5, "color": "black"},
             "encoding": {"y": {"field": "v", "type": "nominal", "sort": null, "bandPosition": 1}, "text": {"field": "hi"}}},
            {"transform": [{"filter": "datum.v === '35-37'"}],
             "mark": {"type": "text", "align": "left", "baseline": "alphabetic", "dx": -11, "dy": -41, "font": "Liberation Sans", "fontSize": 17, "color": "black"},
             "encoding": {"y": {"field": "v", "type": "nominal", "sort": null, "bandPosition": 0}, "text": {"value": "Angle [°]"}}}
          ]
        }
      ]
    },
    {
      "width": 446, "height": 5,
      "data": {"name": "capb"},
      "mark": {"type": "text", "font": "Liberation Serif", "fontSize": 21, "baseline": "middle", "color": "black", "dx": 8},
      "encoding": {"text": {"field": "t"}}
    }
  ],
  "spacing": 7
}
